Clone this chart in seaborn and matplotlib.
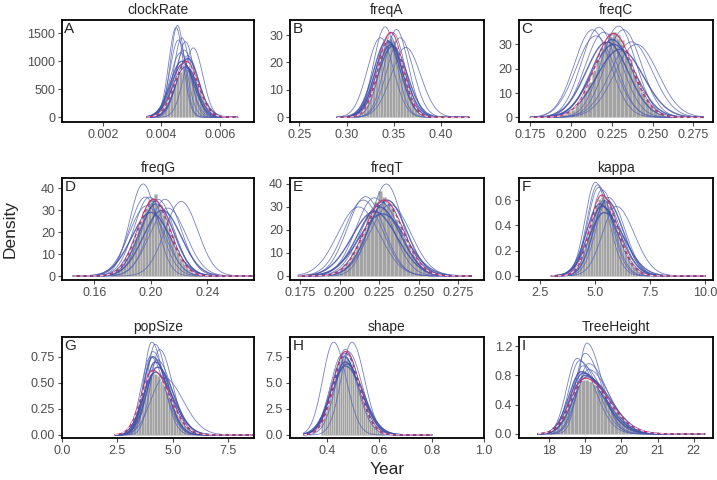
import numpy as np
import pandas as pd
import matplotlib
matplotlib.use("Agg")
import matplotlib.pyplot as plt
import seaborn as sns

# panel names and letters
params = ["clockRate", "freqA", "freqC", "freqG", "freqT", "kappa", "popSize", "shape", "TreeHeight"]
letters = ["A", "B", "C", "D", "E", "F", "G", "H", "I"]

# histogram of the pooled posterior: first bin edge, bin width, bar heights (density)
hist_start = [0.0038, 0.309, 0.190, 0.172, 0.192, 3.80, 2.60, 0.376, 18.0]
hist_width = [0.0001, 0.003, 0.0025, 0.002, 0.0025, 0.12, 0.12, 0.008, 0.1]
hist_clockRate = [80, 135, 190, 290, 378, 510, 615, 740, 810, 880, 870, 860, 780, 695, 565, 460,
                  335, 250, 160, 115, 62, 38]
hist_freqA = [1.0, 2.0, 3.0, 5.0, 6.8, 10.1, 12.7, 16.9, 20.0, 24.0, 26.1, 28.3, 28.4, 27.9, 25.3,
              22.8, 19.0, 15.7, 11.6, 8.9, 6.0, 4.3, 2.5, 1.6, 0.9]
hist_freqC = [0.3, 0.6, 1.2, 2.1, 3.0, 5.3, 7.5, 11.2, 14.5, 19.6, 23.6, 28.6, 31.5, 34.6, 35.2, 33.8,
              31.9, 27.6, 23.9, 18.8, 14.9, 10.5, 7.6, 4.8, 3.2, 1.8, 1.1, 0.6, 0.3, 0.2]
hist_freqG = [1.3, 2.2, 3.0, 4.8, 6.2, 9.0, 11.2, 14.9, 18.0, 22.6, 25.1, 29.8, 31.2, 34.5, 35.5, 37.2,
              33.1, 32.4, 28.6, 26.1, 21.5, 18.8, 14.2, 11.8, 8.4, 6.6, 4.4, 3.3, 2.0, 1.4, 0.8, 0.5]
hist_freqT = [0.6, 1.3, 2.1, 3.0, 5.0, 6.6, 10.5, 13.0, 17.8, 20.6, 26.4, 28.1, 32.3, 37.0, 34.2, 30.8,
              29.5, 24.7, 22.0, 16.5, 13.9, 9.4, 7.3, 4.5, 3.2, 1.9, 1.2, 0.7]
hist_kappa = [0.02, 0.03, 0.06, 0.09, 0.14, 0.19, 0.27, 0.35, 0.42, 0.52, 0.57, 0.61, 0.64, 0.62, 0.60,
              0.55, 0.51, 0.44, 0.38, 0.32, 0.25, 0.20, 0.16, 0.11, 0.08, 0.06, 0.04, 0.03, 0.02, 0.01]
hist_popSize = [0.02, 0.03, 0.05, 0.08, 0.12, 0.18, 0.25, 0.31, 0.41, 0.47, 0.54, 0.57, 0.59, 0.58, 0.57,
                0.52, 0.49, 0.45, 0.38, 0.34, 0.28, 0.23, 0.19, 0.14, 0.11, 0.08, 0.06, 0.04, 0.03, 0.02]
hist_shape = [1.7, 2.3, 2.8, 3.6, 4.2, 5.0, 5.6, 6.4, 6.8, 7.3, 7.4, 7.5, 7.3, 7.1, 6.6, 6.3, 5.6, 5.0,
              4.4, 3.7, 3.2, 2.6, 2.1, 1.6, 1.3, 1.0, 0.7, 0.5, 0.4, 0.3]
hist_TreeHeight = [0.05, 0.10, 0.15, 0.24, 0.33, 0.45, 0.55, 0.67, 0.72, 0.75, 0.74, 0.72, 0.68, 0.62,
                   0.57, 0.50, 0.44, 0.37, 0.30, 0.25, 0.19, 0.15, 0.12, 0.08, 0.06, 0.04, 0.03, 0.02,
                   0.01, 0.01]
hists = [hist_clockRate, hist_freqA, hist_freqC, hist_freqG, hist_freqT, hist_kappa, hist_popSize,
         hist_shape, hist_TreeHeight]

# single-run densities: (mode, peak density)
thin_clockRate = [(0.00455, 1640), (0.00450, 1600), (0.00470, 1420), (0.00458, 1380), (0.00482, 1350),
                  (0.00509, 1240), (0.00490, 1100), (0.00465, 1150), (0.00478, 1200)]
thin_freqA = [(0.341, 33), (0.353, 32), (0.349, 31), (0.336, 29), (0.363, 25.5), (0.345, 30), (0.357, 29)]
thin_freqC = [(0.217, 37), (0.213, 36), (0.229, 37.5), (0.220, 35), (0.232, 36), (0.237, 31),
              (0.240, 30), (0.215, 33.5)]
thin_freqG = [(0.1945, 42), (0.199, 36), (0.205, 35), (0.210, 35), (0.2215, 34), (0.212, 31),
              (0.197, 32), (0.196, 36)]
thin_freqT = [(0.2295, 40), (0.2165, 34.5), (0.222, 34), (0.215, 33), (0.232, 31), (0.212, 30), (0.226, 32)]
thin_kappa = [(5.0, 0.74), (5.1, 0.72), (5.15, 0.70), (5.3, 0.68), (5.6, 0.62), (5.95, 0.55), (5.4, 0.60)]
thin_popSize = [(4.05, 0.89), (4.2, 0.87), (4.4, 0.82), (4.1, 0.80), (4.0, 0.75), (4.3, 0.72), (4.6, 0.55)]
thin_shape = [(0.425, 8.9), (0.495, 8.9), (0.47, 8.2), (0.48, 8.0), (0.46, 7.8)]
thin_TreeHeight = [(19.05, 1.24), (19.0, 1.10), (18.78, 1.03), (18.85, 1.00), (19.1, 0.96),
                   (18.95, 0.93), (19.1, 0.88)]
thins = [thin_clockRate, thin_freqA, thin_freqC, thin_freqG, thin_freqT, thin_kappa, thin_popSize,
         thin_shape, thin_TreeHeight]

thick_clockRate = [(0.00490, 1050), (0.00475, 960), (0.00483, 900), (0.00470, 1000)]
thick_freqA = [(0.345, 27.5), (0.347, 26.5), (0.343, 28), (0.349, 26)]
thick_freqC = [(0.222, 31), (0.225, 32), (0.230, 28), (0.226, 30)]
thick_freqG = [(0.202, 34), (0.204, 33), (0.208, 30), (0.200, 29)]
thick_freqT = [(0.230, 33), (0.228, 32), (0.225, 30), (0.222, 28), (0.227, 27)]
thick_kappa = [(5.5, 0.60), (5.3, 0.55), (5.4, 0.50), (5.2, 0.57)]
thick_popSize = [(4.1, 0.75), (4.2, 0.70), (4.3, 0.65), (4.2, 0.60)]
thick_shape = [(0.47, 7.8), (0.465, 7.5), (0.47, 7.0), (0.47, 6.6), (0.475, 6.8)]
thick_TreeHeight = [(18.9, 0.85), (19.0, 0.80), (19.05, 0.78), (18.95, 0.83)]
thicks = [thick_clockRate, thick_freqA, thick_freqC, thick_freqG, thick_freqT, thick_kappa,
          thick_popSize, thick_shape, thick_TreeHeight]

# pooled density
red_peaks = [(0.00485, 1000), (0.347, 31), (0.226, 34.5), (0.202, 35), (0.228, 33), (5.3, 0.64),
             (4.1, 0.62), (0.47, 8.0), (19.0, 0.76)]
skews = [1.0, 1.0, 1.0, 1.0, 1.0, 1.3, 1.45, 1.15, 1.7]
spans = [(0.0035, 0.0066), (0.29, 0.43), (0.175, 0.281), (0.145, 0.272), (0.174, 0.283),
         (3.0, 10.0), (2.4, 8.6), (0.31, 0.80), (17.7, 22.3)]

xlims = [(0.00061, 0.00716), (0.240, 0.446), (0.168, 0.287), (0.137, 0.273), (0.1687, 0.2912),
         (1.53, 10.35), (0.0, 8.66), (0.258, 0.995), (17.18, 22.53)]
ylims = [(-84, 1737), (-1.7, 35.5), (-1.9, 40.0), (-1.8, 44.7), (-1.74, 42.6), (-0.032, 0.774),
         (-0.029, 0.939), (-0.29, 9.39), (-0.055, 1.323)]
xticks = [[0.002, 0.004, 0.006], [0.25, 0.30, 0.35, 0.40], [0.175, 0.200, 0.225, 0.250, 0.275],
          [0.16, 0.20, 0.24], [0.175, 0.200, 0.225, 0.250, 0.275], [2.5, 5.0, 7.5, 10.0],
          [0.0, 2.5, 5.0, 7.5], [0.4, 0.6, 0.8, 1.0], [18, 19, 20, 21, 22]]
xticklabels = [["0.002", "0.004", "0.006"], ["0.25", "0.30", "0.35", "0.40"],
               ["0.175", "0.200", "0.225", "0.250", "0.275"], ["0.16", "0.20", "0.24"],
               ["0.175", "0.200", "0.225", "0.250", "0.275"], ["2.5", "5.0", "7.5", "10.0"],
               ["0.0", "2.5", "5.0", "7.5"], ["0.4", "0.6", "0.8", "1.0"], ["18", "19", "20", "21", "22"]]
yticks = [[0, 500, 1000, 1500], [0, 10, 20, 30], [0, 10, 20, 30], [0, 10, 20, 30, 40], [0, 10, 20, 30, 40],
          [0.0, 0.2, 0.4, 0.6], [0.0, 0.25, 0.5, 0.75], [0.0, 2.5, 5.0, 7.5], [0.0, 0.4, 0.8, 1.2]]
yticklabels = [["0", "500", "1000", "1500"], ["0", "10", "20", "30"], ["0", "10", "20", "30"],
               ["0", "10", "20", "30", "40"], ["0", "10", "20", "30", "40"], ["0.0", "0.2", "0.4", "0.6"],
               ["0.00", "0.25", "0.50", "0.75"], ["0.0", "2.5", "5.0", "7.5"], ["0.0", "0.4", "0.8", "1.2"]]

sns.set_style("ticks")
plt.rcParams["font.family"] = ["Liberation Sans", "DejaVu Sans"]


def density(xs, mode, peak, skew):
    # split normal with unit area and the given mode and peak height
    total = 2.0 / (np.sqrt(2 * np.pi) * peak)
    sl = total / (1 + skew)
    sr = skew * sl
    s = np.where(xs < mode, sl, sr)
    return peak * np.exp(-0.5 * ((xs - mode) / s) ** 2)


W, H = 717, 480
cols = [(62, 254), (290, 484), (519, 713)]
rows = [(20, 122), (178, 280), (337, 438)]

fig = plt.figure(figsize=(W / 100, H / 100), dpi=100)
for k in range(9):
    c0, c1 = cols[k % 3]
    r0, r1 = rows[k // 3]
    ax = fig.add_axes([c0 / W, 1 - r1 / H, (c1 - c0) / W, (r1 - r0) / H])

    heights = np.array(hists[k])
    edges = hist_start[k] + hist_width[k] * np.arange(len(heights) + 1)
    hdf = pd.DataFrame({"x": (edges[:-1] + edges[1:]) / 2, "w": heights})
    sns.histplot(data=hdf, x="x", weights="w", bins=list(edges), ax=ax, color="#A3A3A3",
                 edgecolor="#CFCFCF", linewidth=0.4, alpha=1.0)

    xs = np.linspace(spans[k][0], spans[k][1], 400)
    for mode, peak in thins[k]:
        sns.lineplot(x=xs, y=density(xs, mode, peak, skews[k]), ax=ax, color="#5562B2",
                     linewidth=0.6, alpha=0.8, estimator=None)
    for mode, peak in thicks[k]:
        sns.lineplot(x=xs, y=density(xs, mode, peak, skews[k]), ax=ax, color="#4452A8",
                     linewidth=1.0, alpha=0.85, estimator=None)
    mode, peak = red_peaks[k]
    yr = density(xs, mode, peak, skews[k])
    sns.lineplot(x=xs, y=yr, ax=ax, color="#C8336A", linewidth=0.9, alpha=0.9, estimator=None)
    ax.plot(xs, yr * 0.97, color="white", linewidth=0.8, dashes=(3, 3), alpha=0.8)

    ax.set_xlim(xlims[k])
    ax.set_ylim(ylims[k])
    ax.set_xticks(xticks[k])
    ax.set_xticklabels(xticklabels[k])
    ax.set_yticks(yticks[k])
    ax.set_yticklabels(yticklabels[k])
    ax.set_xlabel("")
    ax.set_ylabel("")
    ax.tick_params(labelsize=9, colors="#4D4D4D", labelcolor="#4D4D4D", length=3, width=0.8, pad=2)
    for sp in ax.spines.values():
        sp.set_visible(True)
        sp.set_color("black")
        sp.set_linewidth(1.3)
    ax.set_title(params[k], fontsize=10, pad=4)
    ax.text(0.012, 0.985, letters[k], transform=ax.transAxes, ha="left", va="top", fontsize=11)

fig.text(387 / W, 1 - 470 / H, "Year", ha="center", va="center", fontsize=12.5)
fig.text(10 / W, 1 - 229 / H, "Density", ha="center", va="center", rotation=90, fontsize=12.5)

fig.savefig("out.png", dpi=100)
